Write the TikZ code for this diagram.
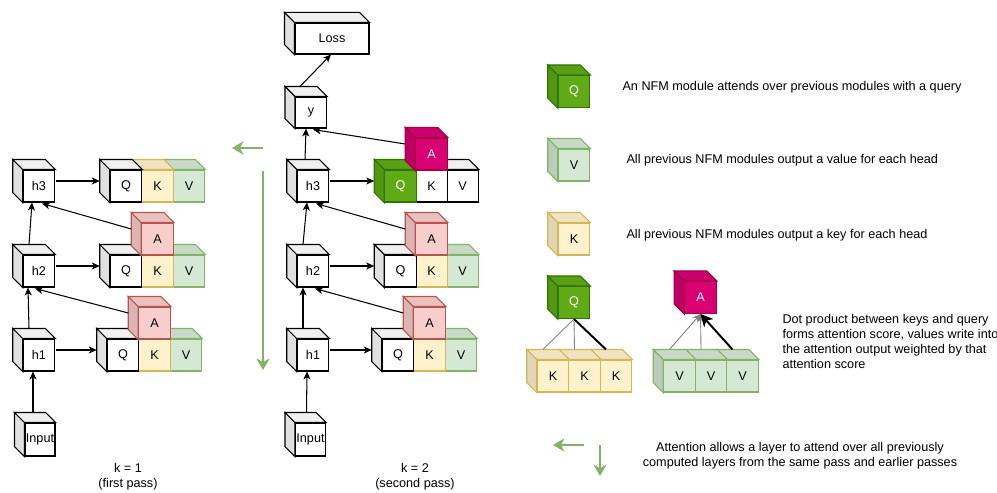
\documentclass[tikz,border=0pt]{standalone}
\usepackage{fontspec}
\setmainfont{Liberation Sans}
\usetikzlibrary{arrows.meta,calc}

\definecolor{qfill}{HTML}{60A917}
\definecolor{qline}{HTML}{2D7600}
\definecolor{kfill}{HTML}{FFF2CC}
\definecolor{kline}{HTML}{D6B656}
\definecolor{vfill}{HTML}{D5E8D4}
\definecolor{vline}{HTML}{82B366}
\definecolor{afill}{HTML}{F8CECC}
\definecolor{aline}{HTML}{B85450}
\definecolor{mfill}{HTML}{D80073}
\definecolor{mline}{HTML}{A50040}

\tikzset{
  face/.style={inner sep=0pt, minimum width=0.63cm, minimum height=0.64cm},
  plaincube/.style={face, draw=black, fill=white},
  querycube/.style={face, draw=qline, fill=qfill, text=white},
  keycube/.style={face, draw=kline, fill=kfill},
  valcube/.style={face, draw=vline, fill=vfill},
  attcube/.style={face, draw=aline, fill=afill},
  attmcube/.style={face, draw=mline, fill=mfill, text=white},
  conn/.style={-{Stealth[length=4.5pt,width=4pt,inset=1.2pt]}},
  flow/.style={draw=vline, line width=1.1pt, -{Stealth[length=6.5pt,width=7.5pt,inset=2pt]}},
  note/.style={anchor=west, align=left, inner sep=0pt},
}

% side and top faces of a cube, drawn behind the front node
\newcommand{\sideface}[3]{\filldraw[draw=#3, fill=#2!88!black] (#1.north west) -- ++(-10,-10) -- ($(#1.south west)+(-10,-10)$) -- (#1.south west) -- cycle;}
\newcommand{\topface}[3]{\filldraw[draw=#3, fill=#2!94!black] (#1.north west) -- ++(-10,-10) -- ($(#1.north east)+(-10,-10)$) -- (#1.north east) -- cycle;}
\newcommand{\cubefaces}[3]{\sideface{#1}{#2}{#3}\topface{#1}{#2}{#3}}

\begin{document}
\begin{tikzpicture}[x=0.02cm, y=-0.02cm, line width=0.6pt, font=\fontsize{7.2pt}{8.4pt}\selectfont]
\useasboundingbox (0,0) rectangle (997,493);

% first pass
\node[plaincube, minimum width=0.6cm, minimum height=0.66cm] (p1in) at (40,439.5) {Input}; \cubefaces{p1in}{white}{black}
\node[plaincube] (p1h1) at (39,355) {h1}; \cubefaces{p1h1}{white}{black}
\node[plaincube] (p1h2) at (39,271) {h2}; \cubefaces{p1h2}{white}{black}
\node[plaincube] (p1h3) at (39,186) {h3}; \cubefaces{p1h3}{white}{black}

\node[valcube] (p1v3) at (189,186) {V}; \topface{p1v3}{vfill}{vline}
\node[keycube] (p1k3) at (157.5,186) {K}; \topface{p1k3}{kfill}{kline}
\node[plaincube] (p1q3) at (126,186) {Q}; \cubefaces{p1q3}{white}{black}

\node[valcube] (p1v2) at (189,271) {V}; \topface{p1v2}{vfill}{vline}
\node[keycube] (p1k2) at (157.5,271) {K}; \topface{p1k2}{kfill}{kline}
\node[plaincube] (p1q2) at (126,271) {Q}; \cubefaces{p1q2}{white}{black}
\node[attcube] (p1a2) at (157.5,239) {A}; \cubefaces{p1a2}{afill}{aline}

\node[valcube] (p1v1) at (186,355) {V}; \topface{p1v1}{vfill}{vline}
\node[keycube] (p1k1) at (154.5,355) {K}; \topface{p1k1}{kfill}{kline}
\node[plaincube] (p1q1) at (123,355) {Q}; \cubefaces{p1q1}{white}{black}
\node[attcube] (p1a1) at (154.5,323) {A}; \cubefaces{p1a1}{afill}{aline}

\draw[conn] ($(p1in.north)+(-7,-10)$) -- ($(p1h1.south)+(-6,0)$);
\draw[conn] ($(p1h1.north)+(-10,-10)$) -- ($(p1h2.south)+(-11,0)$);
\draw[conn] ($(p1h2.north)+(-10,-10)$) -- ($(p1h3.south)+(-7,0)$);
\draw[conn] ($(p1h1.east)+(1,-5)$) -- ($(p1q1.west)+(-10,-5)$);
\draw[conn] ($(p1h2.east)+(1,-5)$) -- ($(p1q2.west)+(-10,-5)$);
\draw[conn] ($(p1h3.east)+(1,-5)$) -- ($(p1q3.west)+(-10,-5)$);
\draw[conn] ($(p1a1.west)+(-10,-10)$) -- ($(p1h2.south)+(-4,1)$);
\draw[conn] ($(p1a2.west)+(-10,-10)$) -- ($(p1h3.south)+(3,1)$);

\node[align=center] (p1lab) at (128,476.5) {k = 1\\(first pass)};

% second pass
\node[plaincube, minimum width=0.6cm, minimum height=0.66cm] (p2in) at (310.5,439.5) {Input}; \cubefaces{p2in}{white}{black}
\node[plaincube] (p2h1) at (313,355) {h1}; \cubefaces{p2h1}{white}{black}
\node[plaincube] (p2h2) at (313,271) {h2}; \cubefaces{p2h2}{white}{black}
\node[plaincube] (p2h3) at (313,186) {h3}; \cubefaces{p2h3}{white}{black}
\node[plaincube, minimum width=0.62cm, minimum height=0.62cm] (p2y) at (311,112.5) {y}; \cubefaces{p2y}{white}{black}
\node[plaincube, minimum width=1.48cm, minimum height=0.62cm] (p2loss) at (332,38.5) {Loss}; \cubefaces{p2loss}{white}{black}

\node[plaincube] (p2v3) at (462.5,186) {V}; \topface{p2v3}{white}{black}
\node[plaincube] (p2k3) at (431.5,186) {K}; \topface{p2k3}{white}{black}
\node[querycube] (p2q3) at (400.5,186) {Q}; \cubefaces{p2q3}{qfill}{qline}
\node[attmcube] (p2a3) at (431.5,154) {A}; \cubefaces{p2a3}{mfill}{mline}

\node[valcube] (p2v2) at (462.5,271) {V}; \topface{p2v2}{vfill}{vline}
\node[keycube] (p2k2) at (431.5,271) {K}; \topface{p2k2}{kfill}{kline}
\node[plaincube] (p2q2) at (400.5,271) {Q}; \cubefaces{p2q2}{white}{black}
\node[attcube] (p2a2) at (431.5,239) {A}; \cubefaces{p2a2}{afill}{aline}

\node[valcube] (p2v1) at (461,355) {V}; \topface{p2v1}{vfill}{vline}
\node[keycube] (p2k1) at (429.5,355) {K}; \topface{p2k1}{kfill}{kline}
\node[plaincube] (p2q1) at (398,355) {Q}; \cubefaces{p2q1}{white}{black}
\node[attcube] (p2a1) at (429.5,323) {A}; \cubefaces{p2a1}{afill}{aline}

\draw[conn] ($(p2in.north)+(-4,-10)$) -- ($(p2h1.south)+(-6,0)$);
\draw[conn] ($(p2h1.north)+(-10,-10)$) -- ($(p2h2.south)+(-10,0)$);
\draw[conn] ($(p2h2.north)+(-10,-10)$) -- ($(p2h3.south)+(-6,0)$);
\draw[conn] ($(p2h3.north)+(-8,-10)$) -- ($(p2y.south)+(-5,0)$);
\draw[conn] ($(p2y.north)+(-11,-10)$) -- ($(p2loss.south)+(-1,0)$);
\draw[conn] ($(p2h1.east)+(1,-5)$) -- ($(p2q1.west)+(-10,-5)$);
\draw[conn] ($(p2h2.east)+(1,-5)$) -- ($(p2q2.west)+(-10,-5)$);
\draw[conn] ($(p2h3.east)+(1,-5)$) -- ($(p2q3.west)+(-10,-5)$);
\draw[conn] ($(p2a1.west)+(-10,-10)$) -- ($(p2h2.south)+(2,1)$);
\draw[conn] ($(p2a2.west)+(-10,-10)$) -- ($(p2h3.south)+(3,1)$);
\draw[conn] ($(p2a3.west)+(-10,-10)$) -- ($(p2y.south)+(2,1)$);

\node[align=center] (p2lab) at (415,476.5) {k = 2\\(second pass)};

% attention direction
\coordinate (g1s) at (263,148);
\coordinate (g1e) at (232,148);
\coordinate (g2s) at (263,171);
\coordinate (g2e) at (263,370);
\draw[flow] (g1s) -- (g1e);
\draw[flow] (g2s) -- (g2e);

% legend
\node[querycube] (lq) at (574,91.5) {Q}; \cubefaces{lq}{qfill}{qline}
\node[valcube] (lv) at (574,165) {V}; \cubefaces{lv}{vfill}{vline}
\node[keycube] (lk) at (574,239) {K}; \cubefaces{lk}{kfill}{kline}
\node[note] (lqt) at (622,87) {An NFM module attends over previous modules with a query};
\node[note] (lvt) at (626,160) {All previous NFM modules output a value for each head};
\node[note] (lkt) at (626,235) {All previous NFM modules output a key for each head};

\node[keycube] (dk3) at (616,376) {K}; \topface{dk3}{kfill}{kline}
\node[keycube] (dk2) at (584.5,376) {K}; \topface{dk2}{kfill}{kline}
\node[keycube] (dk1) at (553,376) {K}; \cubefaces{dk1}{kfill}{kline}
\node[querycube] (dq) at (574,302.5) {Q}; \cubefaces{dq}{qfill}{qline}
\draw[gray, line width=0.5pt] (dq.south) -- ($(dk1.north)+(-10,-10)$);
\draw[gray, line width=0.5pt] (dq.south) -- ($(dk2.north)+(-10,-10)$);
\draw[line width=1.1pt] (dq.south) -- ($(dk3.north)+(-10,-10)$);

\node[valcube] (dv3) at (742.5,376) {V}; \topface{dv3}{vfill}{vline}
\node[valcube] (dv2) at (711,376) {V}; \topface{dv2}{vfill}{vline}
\node[valcube] (dv1) at (679.5,376) {V}; \cubefaces{dv1}{vfill}{vline}
\node[attmcube] (da) at (700.5,297.5) {A}; \cubefaces{da}{mfill}{mline}
\draw[conn, gray, line width=0.5pt] ($(dv1.north)+(-10,-10)$) -- (da.south);
\draw[conn, gray, line width=0.5pt] ($(dv2.north)+(-10,-10)$) -- (da.south);
\draw[line width=1.1pt, -{Stealth[length=7pt,width=7pt,inset=2pt]}] ($(dv3.north)+(-10,-10)$) -- (da.south);

\node[note] (dt) at (782,341.5) {Dot product between keys and query\\forms attention score, values write into\\the attention output weighted by that\\attention score};

\coordinate (g3s) at (584,445);
\coordinate (g3e) at (553,445);
\coordinate (g4s) at (600,445);
\coordinate (g4e) at (600,476);
\draw[flow] (g3s) -- (g3e);
\draw[flow] (g4s) -- (g4e);
\node[align=center] (gt) at (800,456) {Attention allows a layer to attend over all previously\\computed layers from the same pass and earlier passes};
\end{tikzpicture}
\end{document}
